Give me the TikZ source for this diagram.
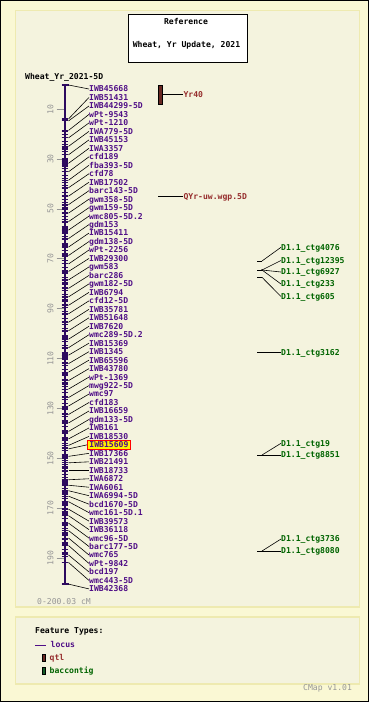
\documentclass[tikz,border=0pt]{standalone}
\usepackage{fontspec}
\setmonofont{DejaVu Sans Mono}
\definecolor{outerbg}{RGB}{250,248,212}
\definecolor{panelbg}{RGB}{244,243,222}
\definecolor{panelbd}{RGB}{238,234,176}
\definecolor{locus}{RGB}{80,15,135}
\definecolor{barcol}{RGB}{45,10,95}
\definecolor{qtlc}{RGB}{150,45,45}
\definecolor{qtlfill}{RGB}{105,40,35}
\definecolor{ctgc}{RGB}{0,100,0}
\definecolor{ctgfill}{RGB}{20,90,40}
\definecolor{scalegray}{RGB}{150,150,150}
\begin{document}
\begin{tikzpicture}[x=1pt,y=-1pt,
  every node/.style={font=\ttfamily\bfseries\fontsize{8.1}{9}\selectfont, inner sep=0pt, text height=5.9pt, text depth=0pt},
  loc/.style={anchor=west, text=locus},
  hl/.style={loc, xshift=-2pt, fill=yellow, draw=red, line width=0.8pt, inner xsep=2pt, inner ysep=1.3pt},
  conn/.style={line width=0.6pt, black},
  tickm/.style={barcol, line width=1pt},
  panel/.style={draw=panelbd, fill=panelbg, line width=1.5pt},
  ctglab/.style={anchor=west, text=ctgc},
  qtllab/.style={anchor=west, text=qtlc},
  graylab/.style={anchor=west, text=scalegray, font=\ttfamily\fontsize{8.1}{9}\selectfont}]
\useasboundingbox (0,0) rectangle (369,702);
\fill[outerbg] (0,0) rectangle (369,702);
\draw[black, line width=1pt] (0.5,0.5) rectangle (368.5,701.5);
\draw[panel] (15.5,10.5) rectangle (359.5,607);
\draw[panel] (15.5,617) rectangle (359.5,684);
% title
\node[draw, fill=white, line width=1pt, minimum width=119pt, minimum height=48pt] (title) at (187.5,38) {};
\node (ref) at (186,22) {Reference};
\node (sub) at (186.5,45) {Wheat, Yr Update, 2021};
\node[anchor=west] (mapname) at (25,77) {Wheat\_Yr\_2021-5D};
% chromosome bar
\coordinate (top) at (65,85);
\coordinate (bot) at (65,584);
\draw[barcol, line width=2pt] (top) -- (bot);
\draw[barcol, line width=1.2pt] (61.5,85) -- (68.5,85);
\draw[barcol, line width=1.2pt] (61.5,584) -- (68.5,584);
% scale
\foreach \c in {10,30,...,190} {
  \pgfmathsetmacro\yy{84.2+2.495*\c}
  \draw[scalegray, line width=0.8pt] (56.5,\yy) -- (63.5,\yy);
  \node[rotate=90, text=scalegray, font=\ttfamily\fontsize{8.1}{9}\selectfont] (s\c) at (50.5,\yy) {\c};
}
% dense ticks
\draw[tickm] (61.7,119) -- (68.3,119);
\foreach \y in {131,134.4,...,556} \draw[tickm] (61.7,\y) -- (68.3,\y);
\draw[tickm] (61.7,562) -- (68.3,562);
\foreach \a/\b in {146.7/150, 159/167.3, 207/209.5, 226.7/233.3, 243/247, 253/257, 271.7/274, 281.7/284, 299/301, 335.7/337.7, 353/360, 372/374.5, 382/384.5, 407/410, 421/423.5, 431/433.5, 437/439.5, 455/459, 466/468.5, 480/484, 491/493.5, 502/504.5, 512/516, 522/525, 532/534.5, 542/544.5, 552/554.5}
  \fill[barcol] (61.7,\a) rectangle (68.3,\b);
% markers
\foreach \lab/\off/\sty [count=\k] in {
IWB45668/-4/loc, IWB51431/21.5/loc, IWB44299-5D/15/loc, wPt-9543/16/loc, wPt-1210/15/loc,
IWA779-5D/15/loc, IWB45153/15/loc, IWA3357/15/loc, cfd189/15/loc, fba393-5D/15/loc,
cfd78/14/loc, IWB17502/14/loc, barc143-5D/14/loc, gwm358-5D/14/loc, gwm159-5D/14/loc,
wmc805-5D.2/14/loc, gdm153/14/loc, IWB15411/14/loc, gdm138-5D/14/loc, wPt-2256/14/loc,
IWB29300/13/loc, gwm583/13/loc, barc286/13/loc, gwm182-5D/13/loc, IWB6794/13/loc,
cfd12-5D/13/loc, IWB35781/13/loc, IWB51648/13/loc, IWB7620/13/loc, wmc289-5D.2/13/loc,
IWB15369/12/loc, IWB1345/12/loc, IWB65596/12/loc, IWB43780/12/loc, wPt-1369/12/loc,
mwg922-5D/12/loc, wmc97/12/loc, cfd183/12/loc, IWB16659/12/loc, gdm133-5D/12/loc,
IWB161/11/loc, IWB18530/9/loc, IWB15609/4/hl, IWB17366/3/loc, IWB21491/1/loc,
IWB18733/0/loc, IWA6872/1/loc, IWA6061/-2/loc, IWA6994-5D/-5/loc, bcd1670-5D/-8/loc,
wmc161-5D.1/-11/loc, IWB39573/-12/loc, IWB36118/-14/loc, wmc96-5D/-15/loc, barc177-5D/-16/loc,
wmc765/-17/loc, wPt-9842/-18/loc, bcd197/-17/loc, wmc443-5D/-18/loc, IWB42368/-4.8/loc} {
  \pgfmathsetmacro\ly{89+(\k-1)*8.473}
  \pgfmathsetmacro\by{\ly+\off}
  \node[\sty] (L\k) at (89,\ly) {\lab};
  \coordinate (B\k) at (68.5,\by);
  \draw[tickm] (61.7,\by) -- (68.3,\by);
  \draw[conn] (B\k) -- (L\k.west);
}
% QTLs
\draw[black, fill=qtlfill, line width=0.6pt] (158.3,85) rectangle (162.3,104);
\coordinate (q1) at (162.3,94.3);
\node[qtllab] (yr40) at (183.3,94.3) {Yr40};
\draw[conn] (q1) -- (yr40.west);
\coordinate (q2) at (158.3,196.7);
\node[qtllab] (qyr) at (183.3,196.7) {QYr-uw.wgp.5D};
\draw[conn] (q2) -- (qyr.west);
% contigs
\coordinate (c1a) at (257.3,261); \coordinate (c1b) at (262,261);
\coordinate (c2a) at (257.3,270); \coordinate (c2b) at (262,270);
\coordinate (c3a) at (257.3,277.3); \coordinate (c3b) at (262,277.3);
\draw[conn] (c1a) -- (c1b); \draw[conn] (c2a) -- (c2b); \draw[conn] (c3a) -- (c3b);
\fill (c2b) circle (0.9pt);
\node[ctglab] (g1) at (281,247.3) {D1.1\_ctg4076};
\node[ctglab] (g2) at (281,260.5) {D1.1\_ctg12395};
\node[ctglab] (g3) at (281,272) {D1.1\_ctg6927};
\node[ctglab] (g4) at (281,284) {D1.1\_ctg233};
\node[ctglab] (g5) at (281,296.5) {D1.1\_ctg605};
\draw[conn] (c1b) -- (g1.west);
\draw[conn] (c2b) -- (g2.west);
\draw[conn] (c2b) -- (g3.west);
\draw[conn] (c2b) -- (g4.west);
\draw[conn] (c3b) -- (g5.west);
\coordinate (c4) at (257.3,352.7);
\node[ctglab] (g6) at (281,352.7) {D1.1\_ctg3162};
\draw[conn] (c4) -- (g6.west);
\coordinate (c5a) at (257.3,455); \coordinate (c5b) at (262,455);
\node[ctglab] (g7) at (281,443.3) {D1.1\_ctg19};
\node[ctglab] (g8) at (281,455) {D1.1\_ctg8851};
\draw[conn] (c5a) -- (g8.west);
\draw[conn] (c5b) -- (g7.west);
\coordinate (c6a) at (257.3,551); \coordinate (c6b) at (262,551);
\node[ctglab] (g9) at (281,539) {D1.1\_ctg3736};
\node[ctglab] (g10) at (281,551) {D1.1\_ctg8080};
\draw[conn] (c6a) -- (g10.west);
\draw[conn] (c6b) -- (g9.west);
% range
\node[graylab] (range) at (37,602) {0-200.03 cM};
% legend
\node[anchor=west] (ft) at (35,631) {Feature Types:};
\coordinate (lg1) at (35,645); \coordinate (lg2) at (46,645);
\draw[locus, line width=1pt] (lg1) -- (lg2);
\node[loc] (lgloc) at (50.5,645) {locus};
\draw[black, fill=qtlfill, line width=0.5pt] (42.5,654) rectangle (45.5,661.5);
\node[qtllab] (lgqtl) at (49.5,657.7) {qtl};
\draw[black, fill=ctgfill, line width=0.5pt] (42.5,667) rectangle (45.5,674.5);
\node[ctglab] (lgctg) at (49.5,671) {baccontig};
\node[graylab] (ver) at (303,688) {CMap v1.01};
\end{tikzpicture}
\end{document}
